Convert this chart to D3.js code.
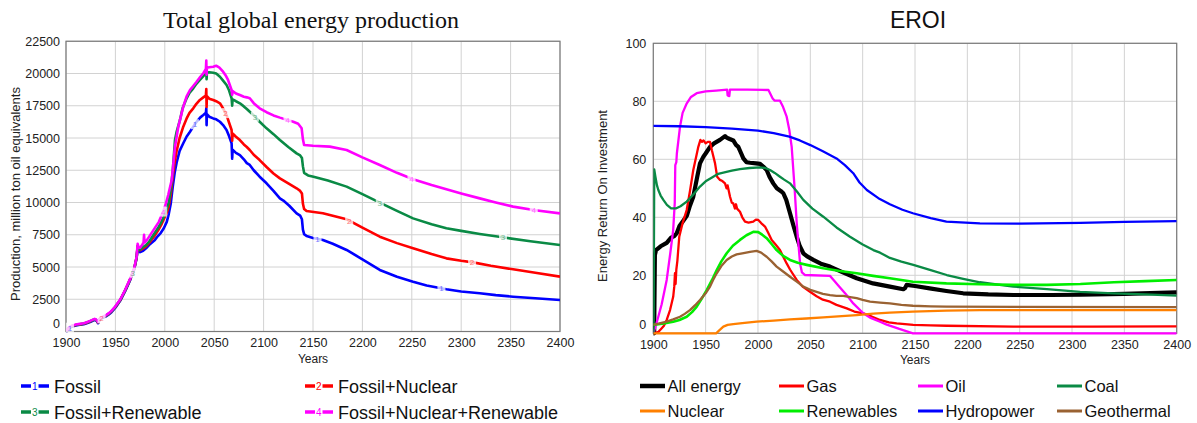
<!DOCTYPE html>
<html>
<head>
<meta charset="utf-8">
<script src="https://cdn.jsdelivr.net/npm/d3@7"></script>
<style>
  body { margin: 0; background: #fff; }
  svg { display: block; font-family: Arial, "Liberation Sans", sans-serif; }
</style>
</head>
<body>
<svg id="chart" width="1197" height="423"></svg>
<script>
// ---------- Total global energy production (million toe), [year, value] ----------
const prodFossil = [
  [1900,-50],[1903,250],[1906,380],[1910,470],[1914,520],[1918,560],[1921,640],[1925,760],[1929,900],[1931,820],[1932.5,640],[1934,900],[1937,1050],[1940,1150],[1943,1300],[1946,1500],[1950,1850],[1955,2400],[1960,3150],[1965,4000],[1969,4800],[1971.5,5700],[1972.5,6500],[1973.5,6250],[1975,6150],[1978,6250],[1981,6450],[1984,6700],[1987,6900],[1990,7100],[1993,7400],[1996,7650],[1999,8000],[2002,8500],[2004,9100],[2006,9900],[2008,11200],[2010,12300],[2012,13100],[2015,14000],[2018.7,14590],[2022,15100],[2025.5,15490],[2029,15900],[2032.2,16260],[2036,16600],[2039,16780],[2041.6,16950],[2042,17300],[2042.3,16000],[2042.6,16850],[2045,16650],[2049,16520],[2052,16450],[2055.8,16260],[2059,16000],[2062.5,15620],[2065,15150],[2067.6,14590],[2068.2,13400],[2068.6,14100],[2072,13850],[2076,13680],[2080,13350],[2083,13050],[2086,12910],[2090,12500],[2096,12000],[2103,11490],[2110,10900],[2116.5,10320],[2120,10150],[2126,9750],[2133.4,9160],[2137,8980],[2138.8,8700],[2139.8,7900],[2141,7550],[2143.5,7400],[2150,7250],[2160,7090],[2170,6800],[2184,6320],[2200,5600],[2217.6,4770],[2235,4250],[2251.3,3860],[2265,3560],[2285,3270],[2300,3100],[2318.8,2960],[2335,2820],[2352.5,2700],[2375,2580],[2400,2440]
];
const prodFossilNuclear = [
  [1900,-20],[1903,280],[1906,410],[1910,500],[1914,550],[1918,600],[1921,680],[1925,800],[1929,940],[1931,860],[1932.5,680],[1934,940],[1937,1090],[1940,1200],[1943,1350],[1946,1550],[1950,1900],[1955,2450],[1960,3200],[1965,4050],[1969,4850],[1971.5,5750],[1972.5,6600],[1973.5,6350],[1975,6300],[1978,6450],[1981,6600],[1984,6850],[1987,7150],[1990,7450],[1993,7800],[1996,8200],[1999,8700],[2002,9200],[2004,9700],[2006,10600],[2008,12000],[2010,13100],[2012,14000],[2015,15000],[2018.7,15880],[2022,16500],[2025,16950],[2028.8,17300],[2032,17650],[2035.5,17950],[2039,18150],[2041.6,18300],[2042,18800],[2042.3,17400],[2042.6,18250],[2045,18050],[2049,17950],[2052,17850],[2055.8,17690],[2059,17300],[2062.5,16780],[2065,16200],[2067.6,15620],[2068.2,14800],[2068.6,15350],[2072,15100],[2076,14840],[2080,14500],[2083,14300],[2086,14070],[2090,13700],[2096,13290],[2103,12750],[2110,12250],[2116.5,11870],[2125,11480],[2133.4,11100],[2137,10900],[2138.8,10700],[2139.8,9900],[2141,9500],[2143.5,9340],[2160,9170],[2170,8980],[2184,8700],[2200,8050],[2217.6,7350],[2235,6850],[2251.3,6450],[2270,6000],[2285,5670],[2300,5480],[2312,5360],[2330,5100],[2352.5,4820],[2375,4550],[2400,4250]
];
const prodFossilRenewable = [
  [1900,-10],[1903,290],[1906,420],[1910,510],[1914,560],[1918,610],[1921,690],[1925,810],[1929,950],[1931,870],[1932.5,690],[1934,950],[1937,1100],[1940,1210],[1943,1360],[1946,1560],[1950,1910],[1955,2460],[1960,3210],[1965,4060],[1969,4860],[1971.5,5760],[1972.5,6620],[1973.5,6380],[1975,6350],[1978,6550],[1981,6700],[1984,6950],[1987,7300],[1990,7650],[1993,8000],[1996,8400],[1999,8900],[2002,9500],[2004,10000],[2006,11000],[2008,12400],[2010.3,14840],[2012,15500],[2015.3,16380],[2018,17300],[2022.1,18080],[2025,18500],[2028.8,18850],[2032,19200],[2035.5,19500],[2039,19800],[2041.6,20000],[2042,20250],[2042.3,19550],[2042.6,20050],[2045,20100],[2049,20060],[2052,20000],[2055.8,19750],[2059,19450],[2062.5,19110],[2065,18700],[2067.6,18080],[2068.2,17500],[2068.6,18000],[2072,17850],[2076,17690],[2080,17450],[2083,17250],[2086,17040],[2090,16750],[2096,16260],[2103,15750],[2110,15300],[2116.5,14840],[2125,14300],[2133.4,13810],[2137,13650],[2138.8,13450],[2139.8,12800],[2141,12300],[2145,12100],[2150.5,12000],[2165,11700],[2184,11230],[2200,10650],[2217.6,9990],[2235,9350],[2251.3,8770],[2270,8320],[2285,8000],[2300,7800],[2318.8,7560],[2342,7300],[2370,7000],[2400,6700]
];
const prodFossilNuclearRenewable = [
  [1900,20],[1903,320],[1906,450],[1910,540],[1914,590],[1918,640],[1921,720],[1925,840],[1929,980],[1931,900],[1932.5,720],[1934,980],[1937,1130],[1940,1240],[1943,1400],[1946,1600],[1950,1950],[1955,2500],[1960,3250],[1965,4100],[1969,4900],[1971.5,5800],[1972.5,6800],[1973.5,6500],[1975,6500],[1977,6700],[1978.5,6900],[1979,7500],[1979.5,6900],[1982,7100],[1985,7450],[1988,7800],[1991,8150],[1994,8500],[1998.4,9300],[2001,9900],[2003.5,10600],[2007,11740],[2010.3,14320],[2013.7,15880],[2018.7,17430],[2022,18200],[2025.5,18720],[2029,19050],[2032.2,19360],[2036,19750],[2039,20020],[2041.6,20350],[2042,21000],[2042.3,19900],[2042.6,20450],[2045,20480],[2049,20530],[2052,20600],[2055,20480],[2059,20140],[2062,19800],[2064,19500],[2067.6,18720],[2068.2,18350],[2068.6,18650],[2072,18450],[2076,18330],[2080,18200],[2083,18150],[2086,18080],[2090,17700],[2096,17300],[2103,17000],[2110,16750],[2116.5,16580],[2124,16400],[2130,16260],[2135,16100],[2138.5,15750],[2139.8,14900],[2141,14460],[2150,14400],[2167,14330],[2184,14070],[2200,13500],[2217.6,12910],[2235,12300],[2251.3,11800],[2270,11350],[2285,11020],[2300,10700],[2318.8,10320],[2335,10000],[2352.5,9680],[2375,9400],[2400,9160]
];
// Years where each production curve carries its number tag
const tagYearsFossil = [1904, 2030.5, 2154.6, 2280];
const tagYearsFossilNuclear = [1936, 2061.5, 2186.6, 2311];
const tagYearsFossilRenewable = [1967.5, 2091.2, 2217.6, 2342.3];
const tagYearsFossilNuclearRenewable = [1998.4, 2124.2, 2249.7, 2373.4];
const prodNames = ["Fossil", "Fossil+Nuclear", "Fossil+Renewable", "Fossil+Nuclear+Renewable"];
const prodYTicks = [0, 2500, 5000, 7500, 10000, 12500, 15000, 17500, 20000, 22500];

// ---------- EROI by source, [year, value] ----------
const eroiAll = [
  [1900,0],[1900.8,0],[1901.5,27],[1902.6,28.7],[1907,30],[1912.8,31.2],[1917,33],[1920,33.5],[1922.4,34.5],[1925,37],[1929,39],[1932,40.5],[1935,44],[1938.2,47.1],[1942,54],[1944.6,58.6],[1948,61],[1950,62],[1954.2,64.3],[1958,65.5],[1963.7,66.7],[1968.5,68],[1970,67.5],[1973,67],[1976.4,66.5],[1979,65],[1981.2,64.3],[1984,62],[1986,60.3],[1989,59],[1992.4,58.8],[1998,58.6],[2002,58.4],[2005,57.5],[2008.3,56.3],[2011,54],[2014.6,51.7],[2018,50],[2022,49],[2024.2,48.3],[2027,46],[2030.6,41.4],[2034,37],[2037,33.3],[2040,30],[2043.3,27.6],[2047,26.5],[2052.9,25.3],[2060,24],[2068.8,23],[2080,21.2],[2094.3,19],[2110,17.2],[2126,16.1],[2138.9,15.2],[2140.5,15.6],[2142,16.7],[2150,16.3],[2164,15.5],[2180,14.6],[2196,13.8],[2220,13.4],[2244,13.2],[2280,13.2],[2308,13.3],[2350,13.6],[2400,14.1]
];
const eroiGas = [
  [1900,0],[1905,0.5],[1910,2.5],[1912.8,4.6],[1916,8],[1919,12.6],[1920,16],[1920.7,20.7],[1921.3,17],[1922,22],[1923,25],[1924.8,33.3],[1928,38],[1931.9,42.5],[1935,49],[1938.2,56.3],[1941,61],[1943,64.3],[1945,66.7],[1946.5,66],[1948,66.5],[1950,65.5],[1952,66],[1954.2,66],[1956,63],[1959,58.6],[1961,54],[1963.7,52.9],[1966,52.5],[1968.5,51.7],[1970,50],[1971,51],[1973.3,47.1],[1975,45],[1976.4,44.8],[1978,43],[1979,44.5],[1980,43],[1982.8,41.9],[1985,40],[1987.6,38.5],[1991,38.2],[1995.5,38.5],[1998,39.2],[2000.3,39.1],[2003,38],[2006.7,36.8],[2010,34.5],[2013.1,32.2],[2017,30.5],[2021,28.7],[2024,26.5],[2027.4,24.1],[2030.6,22],[2037,18.4],[2043,16],[2049.7,14.3],[2056,12.8],[2062,11.6],[2068.8,10.9],[2075,9.8],[2084.8,8.6],[2092,7.5],[2100.6,6.9],[2108,5.9],[2116.6,4.6],[2125,3.8],[2132.5,3.4],[2148.4,2.9],[2165,2.7],[2180.3,2.6],[2244,2.3],[2320,2.3],[2400,2.4]
];
const eroiOil = [
  [1900,0],[1903,3.4],[1908,10],[1912.8,18.4],[1916,27],[1919,35.6],[1920.5,45],[1921,58],[1922,59],[1922.5,62],[1925.5,71.2],[1928,76],[1932,79.3],[1936,81.5],[1941.5,82.8],[1950,83.4],[1960,83.7],[1970.5,84],[1971,82],[1972.6,81.8],[1973.2,84],[1990,84],[2010,83.9],[2014,81],[2016,80.2],[2021,80.2],[2024,78],[2027.4,74.7],[2030,70],[2032.2,64.3],[2035,50],[2037,38],[2040.2,24.1],[2042,21],[2045,20.1],[2068.8,19.8],[2072,18.5],[2076.7,16.5],[2084,13.5],[2091,10.3],[2100.6,6.9],[2107,5.4],[2116.6,4],[2123,3],[2135,1.5],[2148,0],[2400,0]
];
const eroiCoal = [
  [1900,0],[1900.3,0],[1900.9,56.5],[1902,54],[1903.5,51],[1904.8,49.4],[1907,47.5],[1909.6,46],[1913,44.3],[1917,43.1],[1922,43.1],[1926,43.8],[1931.9,45.4],[1938,47.8],[1944.6,50.6],[1950,52.4],[1957.3,54],[1962,55],[1966.9,55.4],[1975,56.1],[1982.8,56.6],[1992,57],[2001.9,57.2],[2007,57],[2011.5,56.3],[2016,55.3],[2021,54],[2025,53],[2030.6,51.7],[2037,49],[2043.3,46],[2052,43],[2062.4,40.2],[2075,36.5],[2087.9,33.3],[2100,30.6],[2110.2,28.7],[2116.6,27.8],[2126,26],[2137,24.7],[2148.4,23.6],[2165,21.8],[2180.3,20.1],[2196,18.8],[2212,17.6],[2244,16.1],[2276,15.2],[2307.7,14.3],[2339.6,13.8],[2370,13.4],[2400,13]
];
const eroiNuclear = [
  [1900,0],[1960,0],[1963,1],[1966.9,2.3],[1971,2.9],[1976.4,3.2],[1985,3.5],[1998.7,4],[2015,4.4],[2030.6,4.8],[2046,5.1],[2062.4,5.5],[2080,5.9],[2094.3,6.3],[2110,6.8],[2126,7.1],[2148,7.5],[2180,7.8],[2212,8],[2300,8],[2400,8]
];
const eroiRenewables = [
  [1900,2.9],[1910,3.4],[1919,4],[1925,4.6],[1931.9,5.7],[1937,7.3],[1941.5,9.2],[1946,11.8],[1951,14.9],[1956,18.3],[1960.6,21.8],[1965,24.8],[1970.1,27.6],[1976,30.2],[1982.8,32.2],[1989,33.8],[1995.5,35],[2000.3,34.9],[2004,34],[2008.3,32.8],[2013,30.8],[2017.8,28.7],[2024,26.7],[2030.6,25.3],[2038,24.3],[2046.5,23.6],[2062.4,22.4],[2078,21.5],[2094.3,20.7],[2110,19.8],[2126,19],[2148,17.8],[2180,17.2],[2212,16.9],[2244,16.7],[2276,16.7],[2308,17],[2340,17.6],[2370,18],[2400,18.4]
];
const eroiHydropower = [
  [1900,71.5],[1925,71.4],[1950,71.1],[1975,70.6],[2000,69.9],[2015,69],[2030,67.8],[2040,66.5],[2050,64.9],[2062,62.8],[2075,60.3],[2083,58],[2091,55.2],[2097,52],[2104,49.4],[2115,46.6],[2126,44.5],[2138,42.6],[2148,41.4],[2165,39.7],[2180,38.5],[2212,37.9],[2250,37.8],[2308,38.1],[2350,38.4],[2400,38.7]
];
const eroiGeothermal = [
  [1900,2.9],[1905,3.3],[1912.8,4],[1919,4.8],[1925.5,5.7],[1930,6.7],[1935,8],[1940,9.7],[1944.6,11.5],[1950,13.8],[1954.2,16.1],[1957,18.3],[1960.6,20.7],[1965,23.2],[1970.1,25.3],[1975,26.5],[1979.6,27.2],[1985,27.6],[1992.4,28.1],[1998.7,28.4],[2003,27.8],[2008.3,26.4],[2013,24.8],[2017.8,23],[2024,21.3],[2030.6,19.5],[2037,17.8],[2043.3,16.1],[2050,15],[2056,14.3],[2062,13.6],[2068.8,13.2],[2075,12.9],[2081.5,12.9],[2088,12.5],[2094.3,12.1],[2100,11.5],[2107,10.9],[2116.6,10.6],[2126,10.3],[2137,9.8],[2148,9.5],[2165,9.3],[2180,9.2],[2250,9.1],[2400,9]
];
const eroiNames = ["All energy", "Gas", "Oil", "Coal", "Nuclear", "Renewables", "Hydropower", "Geothermal"];
const eroiYTicks = [0, 20, 40, 60, 80, 100];
const yearTicks = [1900, 1950, 2000, 2050, 2100, 2150, 2200, 2250, 2300, 2350, 2400];

// ---------- drawing ----------
const svg = d3.select("#chart");
const GRID = "#d2d2d2", FRAME = "#7a7a7a", TEXT = "#222";

function panel(opts) {
  const { x, y, id } = opts;
  const [x0, x1] = x.range(), [y0, y1] = y.range();
  const g = svg.append("g");
  g.append("clipPath").attr("id", id).append("rect")
    .attr("x", x0).attr("y", y1 - 3).attr("width", x1 - x0).attr("height", y0 - y1 + 6);
  // grid
  g.append("g").selectAll("line").data(yearTicks).join("line")
    .attr("x1", d => x(d)).attr("x2", d => x(d)).attr("y1", y1).attr("y2", y0)
    .attr("stroke", GRID).attr("stroke-width", 1);
  g.append("g").selectAll("line").data(opts.yTicks).join("line")
    .attr("x1", x0).attr("x2", x1).attr("y1", d => y(d)).attr("y2", d => y(d))
    .attr("stroke", GRID).attr("stroke-width", 1);
  // frame
  g.append("rect").attr("x", x0).attr("y", y1).attr("width", x1 - x0).attr("height", y0 - y1)
    .attr("fill", "none").attr("stroke", FRAME).attr("stroke-width", 1.2);
  // axes (labels only)
  const ax = g.append("g").attr("transform", `translate(0,${y0})`)
    .call(d3.axisBottom(x).tickValues(yearTicks).tickSize(0).tickPadding(7).tickFormat(d3.format("d")));
  const ay = g.append("g").attr("transform", `translate(${x0},0)`)
    .call(d3.axisLeft(y).tickValues(opts.yTicks).tickSize(0).tickPadding(opts.yPad).tickFormat(d3.format("d")));
  [ax, ay].forEach(a => {
    a.select(".domain").remove();
    a.selectAll("text").attr("fill", TEXT).style("font-size", "12.5px").style("font-family", "Arial, 'Liberation Sans', sans-serif");
  });
  // the zero label sits a little above the bottom edge
  ay.selectAll(".tick").filter(d => d === 0).select("text").attr("dy", "-0.35em");
  // axis titles
  g.append("text").attr("x", (x0 + x1) / 2).attr("y", y0 + 31).attr("text-anchor", "middle")
    .attr("fill", TEXT).style("font-size", "12px").text("Years");
  g.append("text").attr("transform", `translate(${opts.yLabelX},${opts.yLabelY}) rotate(-90)`)
    .attr("text-anchor", "middle").attr("fill", TEXT).style("font-size", "13px").text(opts.yLabel);
  g.append("text").attr("x", opts.titleX).attr("y", 28).attr("text-anchor", "middle")
    .attr("fill", "#111").style("font-size", opts.titleSize).style("font-family", opts.titleFont)
    .text(opts.title);
  return g.append("g").attr("clip-path", `url(#${id})`);
}

// Left panel: production
const xL = d3.scaleLinear().domain([1900, 2400]).range([66, 560]);
const yL = d3.scaleLinear().domain([0, 22500]).range([331.5, 41.25]);
const plotL = panel({
  x: xL, y: yL, id: "clipL", yTicks: prodYTicks, yPad: 6,
  yLabel: "Production, million ton oil equivalents", yLabelX: 20, yLabelY: 194,
  title: "Total global energy production", titleX: 311, titleSize: "24px",
  titleFont: "'Liberation Serif', 'Times New Roman', serif"
});
const prodSeries = [
  { data: prodFossil, color: "#0000ff", tag: "1", tags: tagYearsFossil },
  { data: prodFossilNuclear, color: "#ff0000", tag: "2", tags: tagYearsFossilNuclear },
  { data: prodFossilRenewable, color: "#0a8a45", tag: "3", tags: tagYearsFossilRenewable },
  { data: prodFossilNuclearRenewable, color: "#ff00ff", tag: "4", tags: tagYearsFossilNuclearRenewable }
];
const lineL = d3.line().x(d => xL(d[0])).y(d => yL(d[1]));
prodSeries.forEach(s => {
  plotL.append("path").attr("d", lineL(s.data)).attr("fill", "none")
    .attr("stroke", s.color).attr("stroke-width", 2.6).attr("stroke-linejoin", "round");
});
const valueAt = (data, yr) => {
  const i = d3.bisector(d => d[0]).left(data, yr);
  if (i <= 0) return data[0][1];
  if (i >= data.length) return data[data.length - 1][1];
  const a = data[i - 1], b = data[i];
  return a[1] + (b[1] - a[1]) * (yr - a[0]) / (b[0] - a[0]);
};
prodSeries.forEach(s => {
  const tg = plotL.append("g");
  s.tags.forEach(yr => {
    const cx = xL(yr), cy = yL(valueAt(s.data, yr));
    tg.append("rect").attr("x", cx - 4).attr("y", cy - 5).attr("width", 8).attr("height", 10)
      .attr("fill", "#fff").attr("opacity", 0.75);
    tg.append("text").attr("x", cx).attr("y", cy + 3).attr("text-anchor", "middle")
      .attr("fill", s.color).attr("opacity", 0.55).style("font-size", "8px").text(s.tag);
  });
});

// Right panel: EROI
const xR = d3.scaleLinear().domain([1900, 2400]).range([653.3, 1176.7]);
const yR = d3.scaleLinear().domain([0, 100]).range([333.3, 43.3]);
const plotR = panel({
  x: xR, y: yR, id: "clipR", yTicks: eroiYTicks, yPad: 7,
  yLabel: "Energy Return On Investment", yLabelX: 607, yLabelY: 196,
  title: "EROI", titleX: 918, titleSize: "23px",
  titleFont: "Arial, 'Liberation Sans', sans-serif"
});
const eroiSeries = [
  { data: eroiAll, color: "#000000", w: 4.2 },
  { data: eroiGas, color: "#ff0000", w: 2.3 },
  { data: eroiOil, color: "#ff00ff", w: 2.3 },
  { data: eroiCoal, color: "#0a8a45", w: 2.3 },
  { data: eroiNuclear, color: "#ff8000", w: 2.3 },
  { data: eroiRenewables, color: "#00ee00", w: 2.6 },
  { data: eroiHydropower, color: "#0000ff", w: 2.3 },
  { data: eroiGeothermal, color: "#9a6232", w: 2.3 }
];
const lineR = d3.line().x(d => xR(d[0])).y(d => yR(d[1]));
eroiSeries.forEach(s => {
  plotR.append("path").attr("d", lineR(s.data)).attr("fill", "none")
    .attr("stroke", s.color).attr("stroke-width", s.w).attr("stroke-linejoin", "round");
});

// ---------- legends ----------
const legL = svg.append("g").style("font-size", "18px").attr("fill", "#111");
prodSeries.forEach((s, i) => {
  const col = i % 2, row = Math.floor(i / 2);
  const lx = col === 0 ? 21 : 305, ly = row === 0 ? 386 : 412;
  const item = legL.append("g").attr("transform", `translate(${lx},${ly})`);
  item.append("line").attr("x1", 0).attr("x2", 10).attr("y1", 0).attr("y2", 0)
    .attr("stroke", s.color).attr("stroke-width", 3.5);
  item.append("line").attr("x1", 17.5).attr("x2", 28).attr("y1", 0).attr("y2", 0)
    .attr("stroke", s.color).attr("stroke-width", 3.5);
  item.append("text").attr("x", 13.7).attr("y", 4).attr("text-anchor", "middle")
    .attr("fill", s.color).style("font-size", "10px").text(s.tag);
  item.append("text").attr("x", 33).attr("y", 6.5).text(prodNames[i]);
});
const legR = svg.append("g").style("font-size", "16.5px").attr("fill", "#111");
eroiSeries.forEach((s, i) => {
  const col = i % 4, row = Math.floor(i / 4);
  const lx = 640 + col * 139, ly = row === 0 ? 386 : 411;
  const item = legR.append("g").attr("transform", `translate(${lx},${ly})`);
  item.append("line").attr("x1", 0).attr("x2", 25).attr("y1", 0).attr("y2", 0)
    .attr("stroke", s.color).attr("stroke-width", i === 0 ? 4.5 : 3);
  item.append("text").attr("x", 27.5).attr("y", 6).text(eroiNames[i]);
});
</script>
</body>
</html>
